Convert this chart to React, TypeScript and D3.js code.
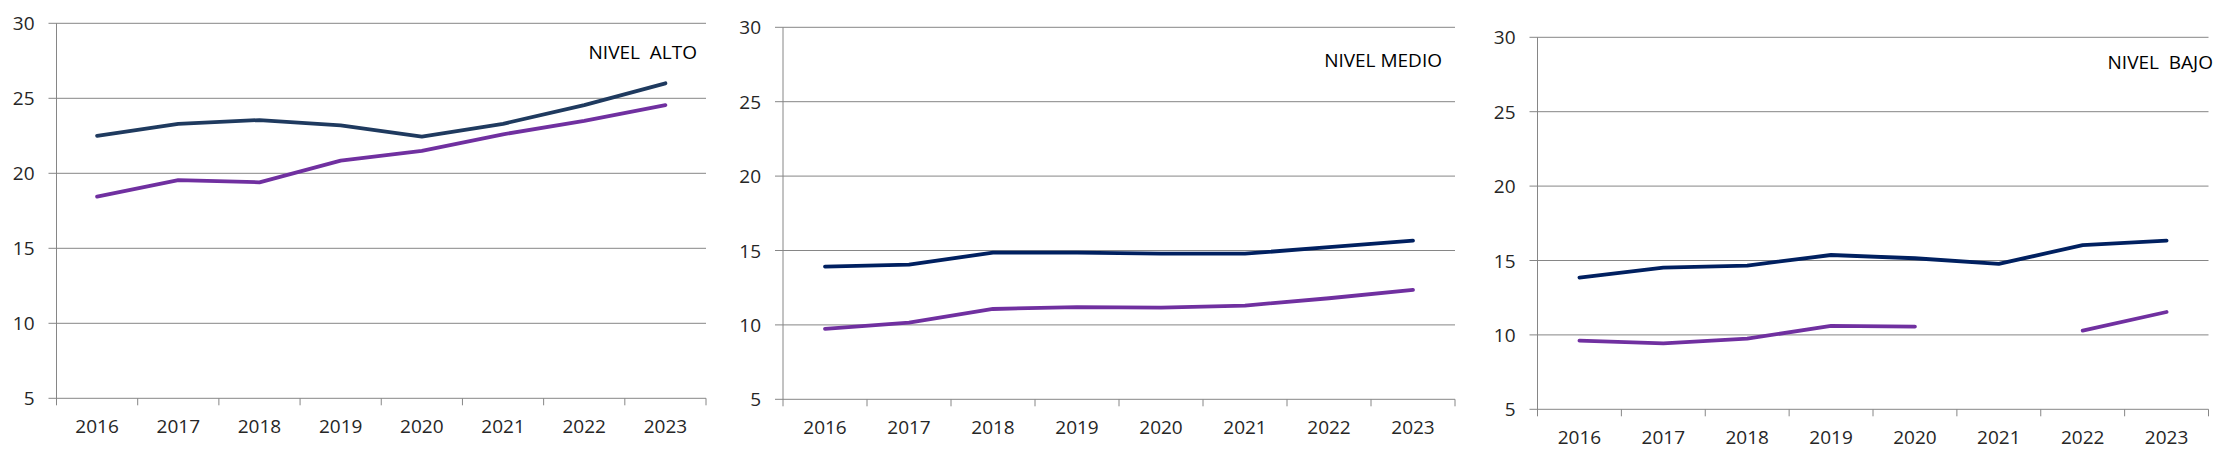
import React, { useEffect, useRef } from 'react';
import * as d3 from 'd3';

const YEARS = ['2016', '2017', '2018', '2019', '2020', '2021', '2022', '2023'];
const Y_TICKS = [5, 10, 15, 20, 25, 30];

const ALTO_TOP = [22.5, 23.3, 23.55, 23.2, 22.45, 23.3, 24.55, 26.0];
const ALTO_LOW = [18.45, 19.55, 19.4, 20.85, 21.5, 22.6, 23.5, 24.55];
const MEDIO_TOP = [13.92, 14.05, 14.86, 14.86, 14.79, 14.79, 15.22, 15.66];
const MEDIO_LOW = [9.73, 10.15, 11.07, 11.2, 11.16, 11.3, 11.79, 12.35];
const BAJO_TOP = [13.85, 14.52, 14.66, 15.37, 15.15, 14.77, 16.04, 16.33];
const BAJO_LOW: (number | null)[] = [9.61, 9.43, 9.75, 10.6, 10.56, null, 10.29, 11.54];

const TITLES = ['NIVEL  ALTO', 'NIVEL MEDIO', 'NIVEL  BAJO'];

const PURPLE = '#7030a0';
const GRID = '#868686';
const TEXT = '#262626';
const FONT = '"Open Sans", sans-serif';

interface Panel {
  x0: number;
  x1: number;
  top: number;
  bottom: number;
  titleX: number;
  titleY: number;
  navy: string;
  upper: (number | null)[];
  lower: (number | null)[];
  title: string;
}

const PANELS: Panel[] = [
  { x0: 56.5, x1: 706, top: 23.3, bottom: 398.3, titleX: 697, titleY: 59, navy: '#1f3a5f', upper: ALTO_TOP, lower: ALTO_LOW, title: TITLES[0] },
  { x0: 783, x1: 1455, top: 27.3, bottom: 399.3, titleX: 1442, titleY: 67, navy: '#002060', upper: MEDIO_TOP, lower: MEDIO_LOW, title: TITLES[1] },
  { x0: 1537.5, x1: 2208.5, top: 37.3, bottom: 409.3, titleX: 2213, titleY: 69, navy: '#002060', upper: BAJO_TOP, lower: BAJO_LOW, title: TITLES[2] },
];

const App: React.FC = () => {
  const svgRef = useRef<SVGSVGElement>(null);

  useEffect(() => {
    document.body.style.margin = '0';
    if (!svgRef.current) return;
    const svg = d3.select(svgRef.current);
    svg.selectAll('*').remove();

    PANELS.forEach((p) => {
      const g = svg.append('g');
      const x = d3.scaleBand<string>().domain(YEARS).range([p.x0, p.x1]);
      const y = d3.scaleLinear().domain([5, 30]).range([p.bottom, p.top]);

      // gridlines + y ticks
      Y_TICKS.forEach((t) => {
        g.append('line')
          .attr('x1', p.x0 - 8)
          .attr('x2', p.x1)
          .attr('y1', y(t))
          .attr('y2', y(t))
          .attr('stroke', GRID)
          .attr('stroke-width', 1);
        g.append('text')
          .attr('x', p.x0 - 22)
          .attr('y', y(t) + 7)
          .attr('text-anchor', 'end')
          .attr('font-family', FONT)
          .attr('font-size', '19px')
          .attr('fill', TEXT)
          .text(t);
      });

      // y axis line
      g.append('line')
        .attr('x1', p.x0)
        .attr('x2', p.x0)
        .attr('y1', p.top)
        .attr('y2', p.bottom + 7)
        .attr('stroke', GRID)
        .attr('stroke-width', 1);

      // x ticks at category boundaries
      YEARS.forEach((yr) => {
        const bx = x(yr)! + x.bandwidth();
        g.append('line')
          .attr('x1', bx)
          .attr('x2', bx)
          .attr('y1', p.bottom)
          .attr('y2', p.bottom + 7)
          .attr('stroke', GRID)
          .attr('stroke-width', 1);
        g.append('text')
          .attr('x', x(yr)! + x.bandwidth() / 2)
          .attr('y', p.bottom + 35)
          .attr('text-anchor', 'middle')
          .attr('font-family', FONT)
          .attr('font-size', '19px')
          .attr('fill', TEXT)
          .text(yr);
      });

      const line = d3
        .line<number | null>()
        .defined((d) => d !== null)
        .x((_, i) => x(YEARS[i])! + x.bandwidth() / 2)
        .y((d) => y(d as number));

      g.append('path')
        .attr('d', line(p.upper)!)
        .attr('fill', 'none')
        .attr('stroke', p.navy)
        .attr('stroke-width', 3.8)
        .attr('stroke-linecap', 'round')
        .attr('stroke-linejoin', 'round');

      g.append('path')
        .attr('d', line(p.lower)!)
        .attr('fill', 'none')
        .attr('stroke', PURPLE)
        .attr('stroke-width', 3.8)
        .attr('stroke-linecap', 'round')
        .attr('stroke-linejoin', 'round');

      g.append('text')
        .attr('x', p.titleX)
        .attr('y', p.titleY)
        .attr('text-anchor', 'end')
        .attr('font-family', FONT)
        .attr('font-size', '19px')
        .attr('fill', '#000')
        .style('white-space', 'pre')
        .text(p.title);
    });
  }, []);

  return <svg ref={svgRef} width={2231} height={457} style={{ display: 'block', background: '#fff' }} />;
};

export default App;
